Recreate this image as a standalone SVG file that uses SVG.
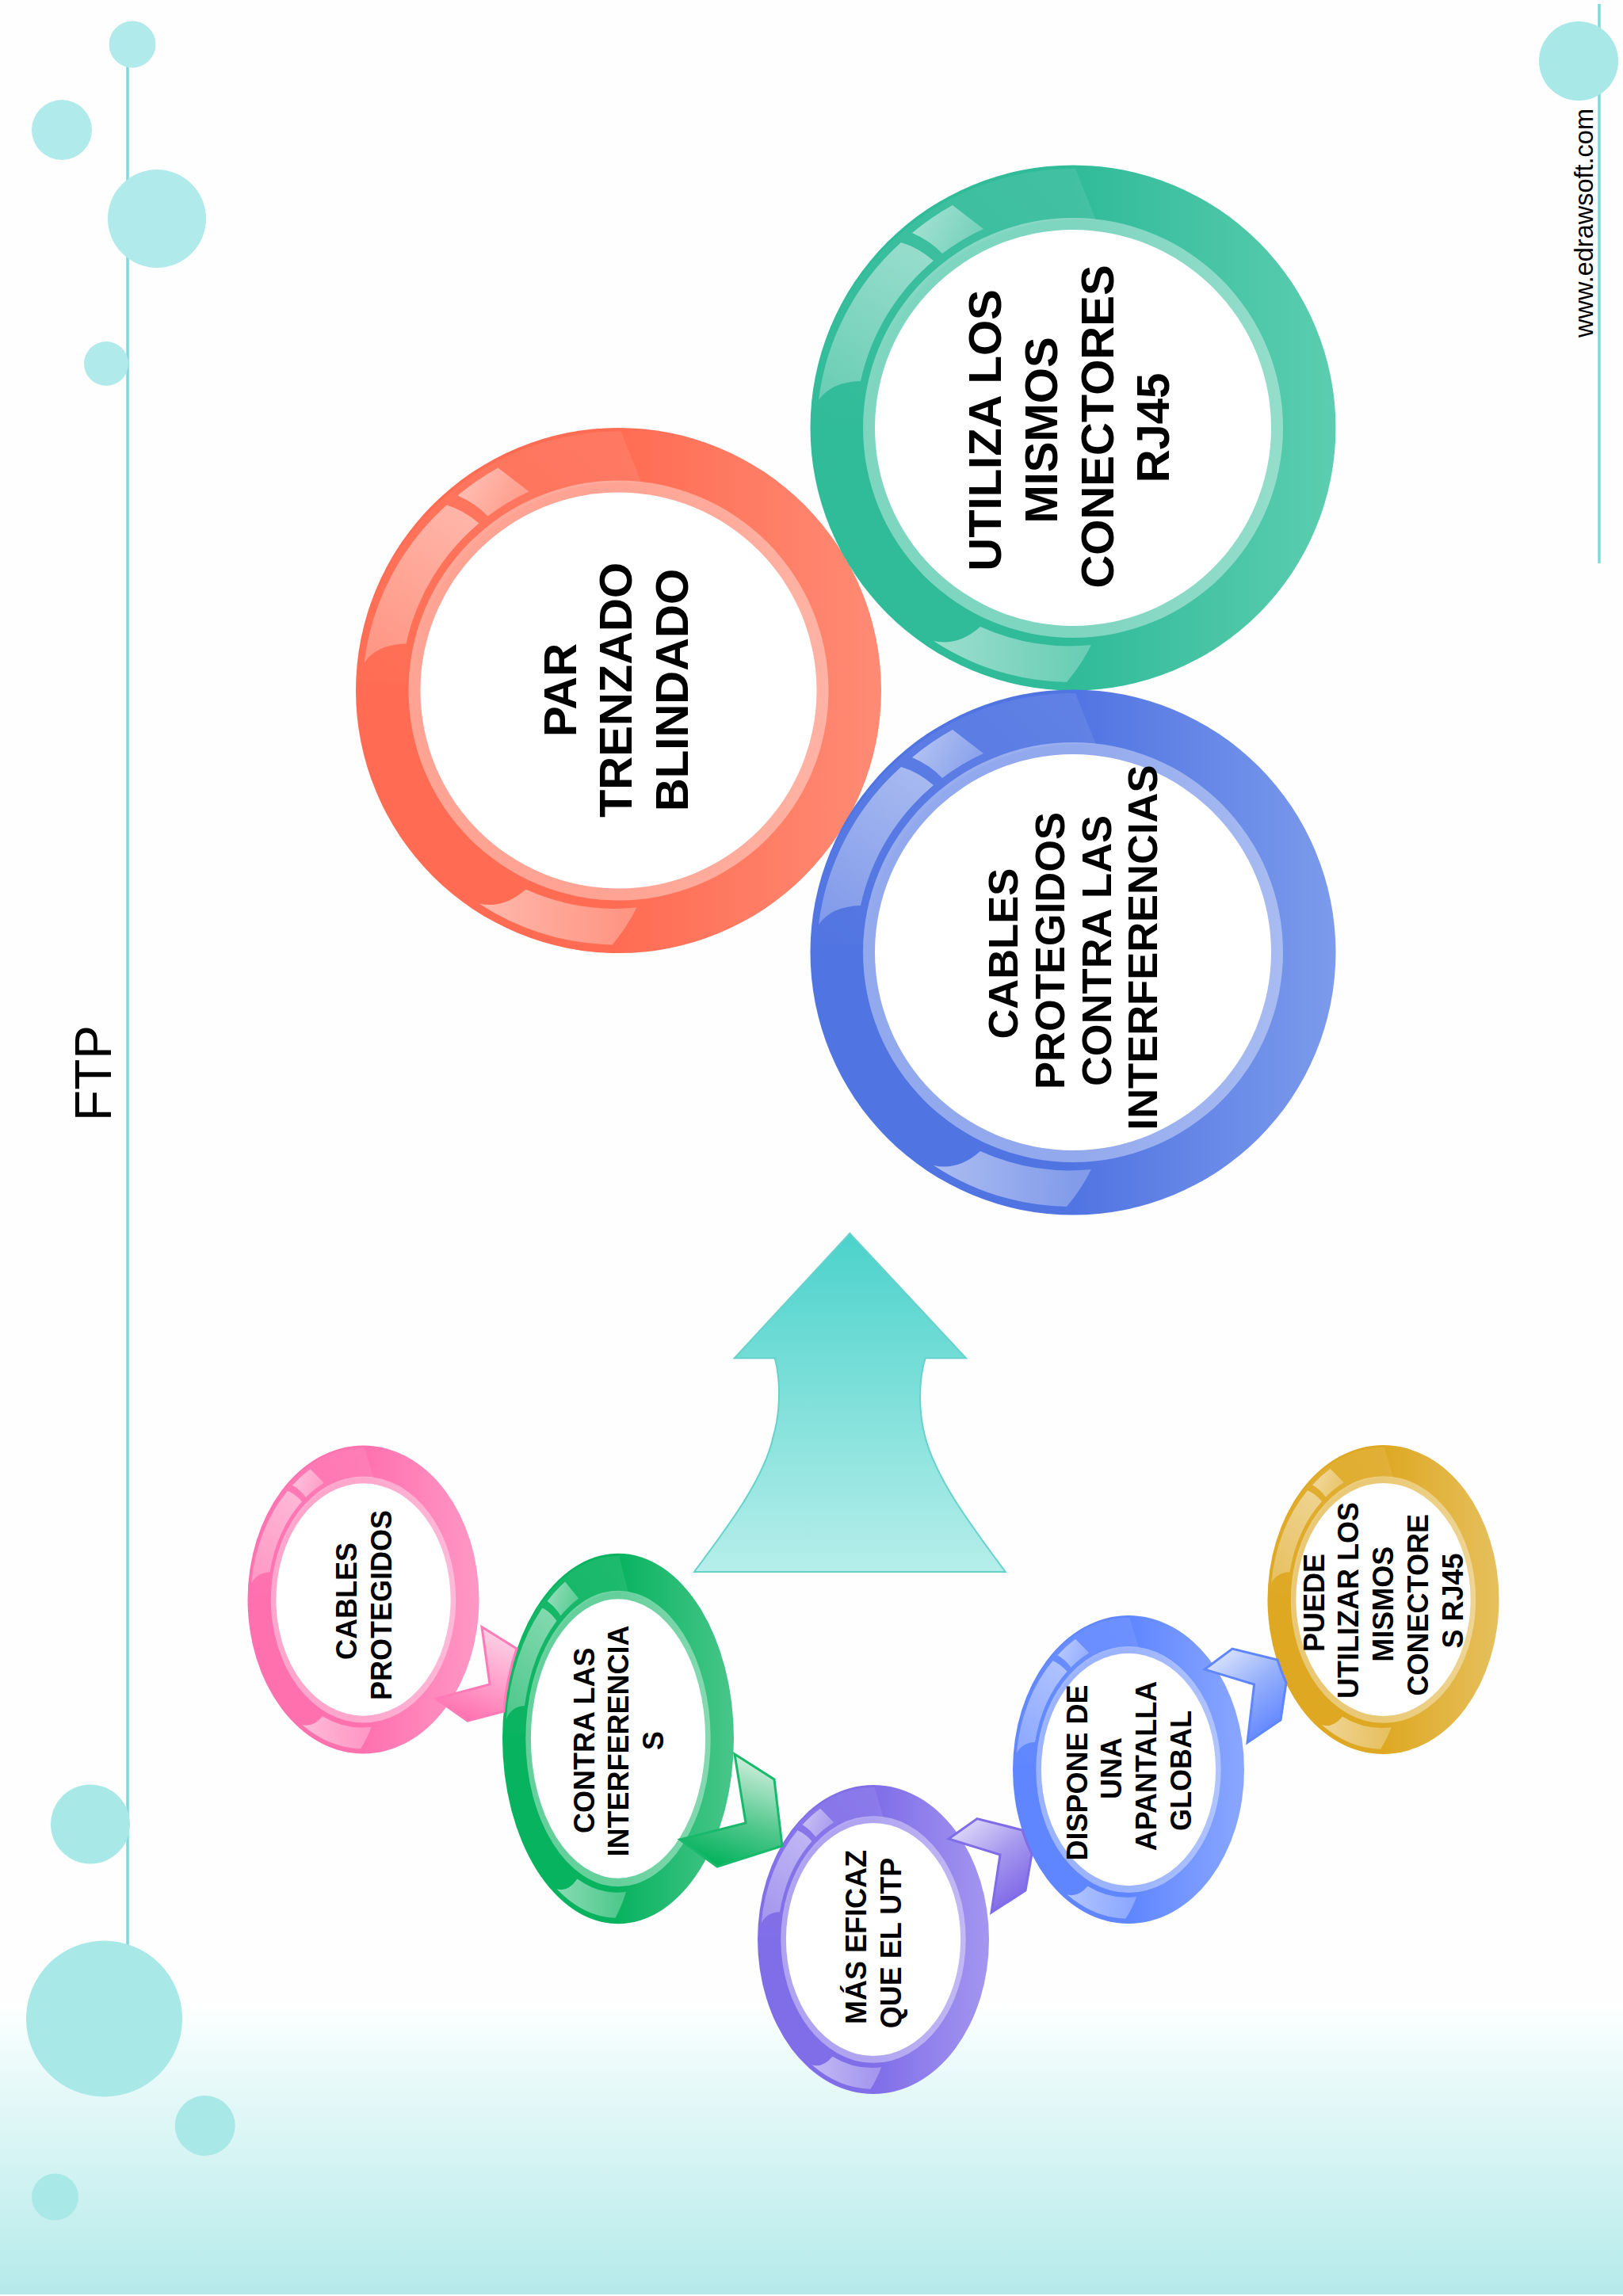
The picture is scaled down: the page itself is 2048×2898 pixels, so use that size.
<svg xmlns="http://www.w3.org/2000/svg" xmlns:xlink="http://www.w3.org/1999/xlink" width="2048" height="2898" viewBox="0 0 2048 2898">
<style>
.deco{fill:#a8e8e6}
.decoT{fill:#b1eaea}
.vline{stroke:#7fdada;stroke-width:3.5;fill:none}
text{font-family:"Liberation Sans",Arial,sans-serif;fill:#000;text-anchor:middle}
.b58{font-weight:700;font-size:58px}
.b52{font-weight:700;font-size:52.5px}
.b36{font-weight:700;font-size:36px}
.arrow{stroke-width:3;stroke-linejoin:miter}
</style>
<defs>
<linearGradient id="bgBottom" x1="0" y1="0" x2="0" y2="1"><stop offset="0" stop-color="#fff"/><stop offset="0.12" stop-color="#f2fcfc"/><stop offset="1" stop-color="#b5eaea"/></linearGradient>
<linearGradient id="upArrow" x1="0" y1="0" x2="0" y2="1"><stop offset="0" stop-color="#4bd2cb"/><stop offset="1" stop-color="#b6eeea"/></linearGradient>
<linearGradient id="cRed" x1="0.5" y1="0" x2="1" y2="0"><stop offset="0" stop-color="#ff6c53"/><stop offset="1" stop-color="#ff8b74"/></linearGradient>
<linearGradient id="cTeal" x1="0.5" y1="0" x2="1" y2="0"><stop offset="0" stop-color="#30bb99"/><stop offset="1" stop-color="#5ccdb0"/></linearGradient>
<linearGradient id="cBlue" x1="0.5" y1="0" x2="1" y2="0"><stop offset="0" stop-color="#5074e2"/><stop offset="1" stop-color="#7c9bec"/></linearGradient>
<linearGradient id="cPink" x1="0.5" y1="0" x2="1" y2="0"><stop offset="0" stop-color="#ff70af"/><stop offset="1" stop-color="#ff98c5"/></linearGradient>
<linearGradient id="cGreen" x1="0.5" y1="0" x2="1" y2="0"><stop offset="0" stop-color="#08b35f"/><stop offset="1" stop-color="#48c68a"/></linearGradient>
<linearGradient id="cViolet" x1="0.5" y1="0" x2="1" y2="0"><stop offset="0" stop-color="#806de8"/><stop offset="1" stop-color="#a496f0"/></linearGradient>
<linearGradient id="cAzure" x1="0.5" y1="0" x2="1" y2="0"><stop offset="0" stop-color="#5f86ff"/><stop offset="1" stop-color="#8aa7ff"/></linearGradient>
<linearGradient id="cGold" x1="0.5" y1="0" x2="1" y2="0"><stop offset="0" stop-color="#dea822"/><stop offset="1" stop-color="#e6c05e"/></linearGradient>
<linearGradient id="wedge" gradientUnits="userSpaceOnUse" x1="-300" y1="60" x2="30" y2="-300"><stop offset="0" stop-color="#fff" stop-opacity="0"/><stop offset="1" stop-color="#fff" stop-opacity="0.09"/></linearGradient>
<linearGradient id="hiA" gradientUnits="userSpaceOnUse" x1="-200" y1="-240" x2="-320" y2="-30"><stop offset="0" stop-color="#fff" stop-opacity="0.48"/><stop offset="1" stop-color="#fff" stop-opacity="0.26"/></linearGradient>
<linearGradient id="hiB" gradientUnits="userSpaceOnUse" x1="-190" y1="-270" x2="-120" y2="-235"><stop offset="0" stop-color="#fff" stop-opacity="0.52"/><stop offset="1" stop-color="#fff" stop-opacity="0.28"/></linearGradient>
<linearGradient id="hiC" gradientUnits="userSpaceOnUse" x1="-176" y1="280" x2="25" y2="290"><stop offset="0" stop-color="#fff" stop-opacity="0.52"/><stop offset="1" stop-color="#fff" stop-opacity="0.26"/></linearGradient>
<linearGradient id="aPink" x1="0.65" y1="0" x2="0.35" y2="1"><stop offset="0" stop-color="#fbd3e6"/><stop offset="0.55" stop-color="#ff9ecb"/><stop offset="1" stop-color="#ff6fae"/></linearGradient>
<linearGradient id="aGreen" x1="0.65" y1="0" x2="0.35" y2="1"><stop offset="0" stop-color="#d4f0e0"/><stop offset="0.55" stop-color="#55c98f"/><stop offset="1" stop-color="#00b15a"/></linearGradient>
<linearGradient id="aViolet" x1="0.1" y1="0" x2="0.75" y2="1"><stop offset="0" stop-color="#e6e2fa"/><stop offset="0.5" stop-color="#a698ee"/><stop offset="1" stop-color="#7a62e6"/></linearGradient>
<linearGradient id="aAzure" x1="0.1" y1="0" x2="0.75" y2="1"><stop offset="0" stop-color="#e4ebfd"/><stop offset="0.5" stop-color="#96b0fb"/><stop offset="1" stop-color="#5b82ff"/></linearGradient>
<g id="gloss">
<path d="M3,-327 A331,331 0 0 0 -331,-10 L-260,-10 A265,265 0 0 1 29,-262 Z" fill="url(#wedge)"/>
<path d="M-321,-35 A321,321 0 0 1 -217,-234 Q-196,-228 -176,-211 A275,275 0 0 0 -268,-59 Q-305,-58 -321,-35 Z" fill="url(#hiA)"/>
<path d="M-203,-246 A319,319 0 0 1 -152,-281 Q-135,-268 -113,-251 A275,275 0 0 0 -165,-220 Q-180,-236 -203,-246 Z" fill="url(#hiB)"/>
<path d="M-176,269 Q-145,276 -117,251 A275,275 0 0 0 23,274 Q10,300 -8,321 A321,321 0 0 1 -176,269 Z" fill="url(#hiC)"/>
<circle r="265" fill="#fff" fill-opacity="0.38"/>
<circle r="250" fill="#fff"/>
</g>
</defs>
<rect id="page" width="2048" height="2898" fill="#fefefe"/>
<rect id="bottom-band" y="2530" width="2048" height="366" fill="url(#bgBottom)"/>
<path class="vline" d="M161,80 V2455"/>
<path class="vline" d="M2018,5 V711"/>
<g id="bubbles-top">
<circle class="decoT" cx="167" cy="56" r="29.5"/>
<circle class="decoT" cx="78" cy="164" r="38"/>
<circle class="decoT" cx="198" cy="276" r="62"/>
<circle class="decoT" cx="134" cy="459" r="28"/>
<circle class="deco" cx="1992" cy="77" r="50"/>
</g>
<g id="bubbles-bottom">
<circle class="deco" cx="114" cy="2302.5" r="50"/>
<circle class="deco" cx="131.5" cy="2548" r="98.5"/>
<circle class="deco" cx="258.7" cy="2683" r="38"/>
<circle class="deco" cx="69.5" cy="2773" r="29.5"/>
</g>
<text id="title" transform="translate(140,1354.5) rotate(-90)" font-size="64">FTP</text>
<text id="website" transform="translate(2010,281.5) rotate(-90)" font-size="32.5">www.edrawsoft.com</text>

<g id="node-par">
<circle cx="780.5" cy="871.5" r="331.5" fill="url(#cRed)"/>
<use xlink:href="#gloss" href="#gloss" transform="translate(780.5,871.5)"/>
<text class="b58" transform="translate(727,871) rotate(-90)">PAR</text>
<text class="b58" transform="translate(797.4,871) rotate(-90)">TRENZADO</text>
<text class="b58" transform="translate(868,871) rotate(-90)">BLINDADO</text>
</g>
<g id="node-utiliza">
<circle cx="1354" cy="540" r="331.5" fill="url(#cTeal)"/>
<use xlink:href="#gloss" href="#gloss" transform="translate(1354,540)"/>
<text class="b58" transform="translate(1263.3,543) rotate(-90)">UTILIZA LOS</text>
<text class="b58" transform="translate(1334,543) rotate(-90)">MISMOS</text>
<text class="b58" transform="translate(1405,538.5) rotate(-90)">CONECTORES</text>
<text class="b58" transform="translate(1475,540) rotate(-90)">RJ45</text>
</g>
<g id="node-cables">
<circle cx="1354" cy="1202" r="331.5" fill="url(#cBlue)"/>
<use xlink:href="#gloss" href="#gloss" transform="translate(1354,1202)"/>
<text class="b52" transform="translate(1284,1203.7) rotate(-90)">CABLES</text>
<text class="b52" transform="translate(1343,1200) rotate(-90)">PROTEGIDOS</text>
<text class="b52" transform="translate(1402,1200) rotate(-90)">CONTRA LAS</text>
<text class="b52" transform="translate(1460,1196) rotate(-90)">INTERFERENCIAS</text>
</g>
<path id="up-arrow" d="M1072.3,1556.7 L1219,1714.3 L1167.7,1714.3 C1158,1745 1160,1785 1167,1812 C1180,1865 1225,1925 1268.7,1984 L876,1984 C920,1925 965,1865 976,1812 C984,1785 986,1745 977.7,1714.3 L926.7,1714.3 Z" fill="url(#upArrow)" stroke="#66d2cb" stroke-width="2"/>

<g id="node-protegidos">
<ellipse cx="458.5" cy="2019" rx="146" ry="194.5" fill="url(#cPink)"/>
<use xlink:href="#gloss" href="#gloss" transform="translate(458.5,2019) scale(0.4404,0.5867)"/>
<text class="b36" transform="translate(449.6,2021) rotate(-90)">CABLES</text>
<text class="b36" transform="translate(494.2,2026) rotate(-90)">PROTEGIDOS</text>
</g>
<g id="node-contra">
<ellipse cx="780" cy="2194.5" rx="146" ry="233.7" fill="url(#cGreen)"/>
<use xlink:href="#gloss" href="#gloss" transform="translate(780,2194.5) scale(0.4404,0.705)"/>
<text class="b36" transform="translate(749.6,2196.7) rotate(-90)">CONTRA LAS</text>
<text class="b36" transform="translate(793.3,2197.5) rotate(-90)">INTERFERENCIA</text>
<text class="b36" transform="translate(837,2197) rotate(-90)">S</text>
</g>
<g id="node-eficaz">
<ellipse cx="1102" cy="2448" rx="146" ry="195" fill="url(#cViolet)"/>
<use xlink:href="#gloss" href="#gloss" transform="translate(1102,2448) scale(0.4404,0.5882)"/>
<text class="b36" transform="translate(1092.7,2445) rotate(-90)">MÁS EFICAZ</text>
<text class="b36" transform="translate(1136.7,2452.5) rotate(-90)">QUE EL UTP</text>
</g>
<g id="node-dispone">
<ellipse cx="1424" cy="2233.5" rx="146" ry="194.5" fill="url(#cAzure)"/>
<use xlink:href="#gloss" href="#gloss" transform="translate(1424,2233.5) scale(0.4404,0.5867)"/>
<text class="b36" transform="translate(1371.9,2237.5) rotate(-90)">DISPONE DE</text>
<text class="b36" transform="translate(1415.2,2232) rotate(-90)">UNA</text>
<text class="b36" transform="translate(1458.9,2229) rotate(-90)">APANTALLA</text>
<text class="b36" transform="translate(1503,2235) rotate(-90)">GLOBAL</text>
</g>
<g id="node-puede">
<ellipse cx="1745.5" cy="2019" rx="146" ry="195" fill="url(#cGold)"/>
<use xlink:href="#gloss" href="#gloss" transform="translate(1745.5,2019) scale(0.4404,0.5882)"/>
<text class="b36" transform="translate(1670.7,2023) rotate(-90)">PUEDE</text>
<text class="b36" transform="translate(1714.3,2020) rotate(-90)">UTILIZAR LOS</text>
<text class="b36" transform="translate(1758,2024.7) rotate(-90)">MISMOS</text>
<text class="b36" transform="translate(1802.3,2025.8) rotate(-90)">CONECTORE</text>
<text class="b36" transform="translate(1846,2020.5) rotate(-90)">S RJ45</text>
</g>
<g id="connectors">
<path class="arrow" fill="url(#aPink)" stroke="#ff7ab6" d="M608,2053.6 L652,2081 A146,233.7 0 0 0 635.6,2160 L590,2172 L550,2144 L618,2126 Z"/>
<path class="arrow" fill="url(#aGreen)" stroke="#19b96b" d="M927,2214 L977,2246 L987,2330 L905,2356 L858,2322 L941,2301 Z"/>
<path class="arrow" fill="url(#aViolet)" stroke="#7f6ce8" d="M1197,2321 L1233,2295.5 L1290,2310 A146,194.5 0 0 0 1302,2340 L1294,2386 L1251,2414 L1262,2341 Z"/>
<path class="arrow" fill="url(#aAzure)" stroke="#5f86ff" d="M1520,2107 L1555,2081 L1612,2095 A146,195 0 0 0 1623,2124 L1616,2171 L1574,2199.5 L1582.6,2126 Z"/>
</g>
</svg>
